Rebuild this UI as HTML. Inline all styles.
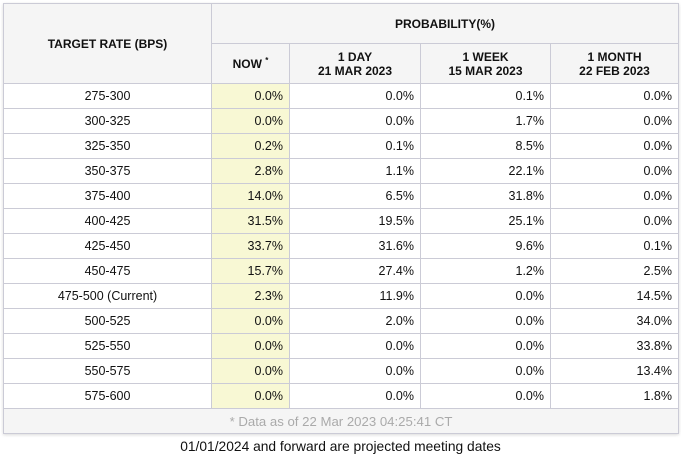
<!DOCTYPE html>
<html><head><meta charset="utf-8"><style>
body{margin:0;width:681px;height:457px;background:#fff;font-family:"Liberation Sans",Arial,sans-serif;position:relative;overflow:hidden}
table{position:absolute;left:3px;top:3px;border-collapse:collapse;table-layout:fixed;width:675px;box-shadow:0 1px 3px rgba(0,0,0,0.15)}
td,th{border:1px solid #cbcbd6;font-size:12.5px;color:#111;padding:0 6px}
th{background:#f5f5f5;font-weight:bold;font-size:12px;text-align:center}
td{height:24px;text-align:right}
td.r{text-align:center}
td.now{background:#f8f8d4}
td.foot{background:#f5f5f5;color:#aaa;text-align:center;height:24px;font-size:13.2px}
.note{position:absolute;left:0;width:681px;top:439px;text-align:center;font-size:13.8px;color:#111}
</style></head><body>
<table>
<colgroup><col style="width:208px"><col style="width:78px"><col style="width:131px"><col style="width:130px"><col style="width:128px"></colgroup>
<tr style="height:40px"><th rowspan="2">TARGET RATE (BPS)</th><th colspan="4">PROBABILITY(%)</th></tr>
<tr style="height:40px"><th>NOW <sup style="font-size:8px">*</sup></th><th>1 DAY<br>21 MAR 2023</th><th>1 WEEK<br>15 MAR 2023</th><th>1 MONTH<br>22 FEB 2023</th></tr>
<tbody id="tb"></tbody>
<tr><td colspan="5" class="foot">* Data as of 22 Mar 2023 04:25:41 CT</td></tr>
</table>
<div class="note">01/01/2024 and forward are projected meeting dates</div>
<script>
const rates=["275-300","300-325","325-350","350-375","375-400","400-425","425-450","450-475","475-500 (Current)","500-525","525-550","550-575","575-600"];
const nowVals=[0.0,0.0,0.2,2.8,14.0,31.5,33.7,15.7,2.3,0.0,0.0,0.0,0.0];
const dayVals=[0.0,0.0,0.1,1.1,6.5,19.5,31.6,27.4,11.9,2.0,0.0,0.0,0.0];
const weekVals=[0.1,1.7,8.5,22.1,31.8,25.1,9.6,1.2,0.0,0.0,0.0,0.0,0.0];
const monthVals=[0.0,0.0,0.0,0.0,0.0,0.0,0.1,2.5,14.5,34.0,33.8,13.4,1.8];
const tb=document.getElementById('tb');
rates.forEach((r,i)=>{
  const tr=document.createElement('tr');
  
  
  const cells=[[r,'r'],[nowVals[i].toFixed(1)+'%','now'],[dayVals[i].toFixed(1)+'%',''],[weekVals[i].toFixed(1)+'%',''],[monthVals[i].toFixed(1)+'%','']];
  cells.forEach(c=>{
    const td=document.createElement('td');
    td.textContent=c[0];
    if(c[1])td.className=c[1];
    
    
    tr.appendChild(td);
  });
  tb.appendChild(tr);
});
</script>
</body></html>
